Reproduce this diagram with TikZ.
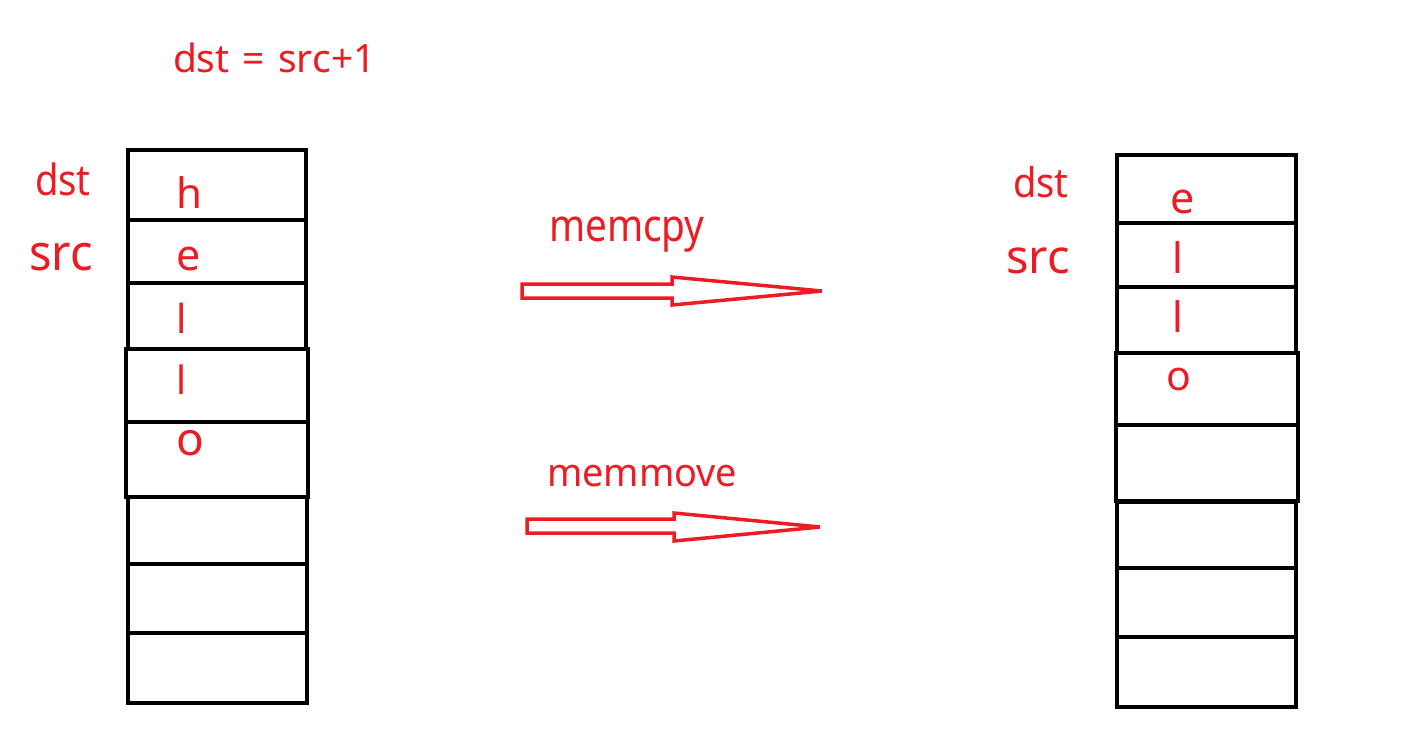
\documentclass[tikz,border=0pt]{standalone}
\usepackage{fontspec}
\newfontfamily\yh{Noto Sans}
\definecolor{pred}{RGB}{237,28,36}
\tikzset{
  cell/.style={draw=black, line width=4pt, inner sep=0pt, outer sep=0pt, rectangle},
  lab/.style={text=pred, inner sep=0pt, outer sep=0pt, anchor=base west},
  fatarrow/.style={draw=pred, line width=3.5pt, line join=miter},
}
\newcommand{\fs}[1]{\yh\fontsize{#1}{#1}\selectfont}
\newcommand{\sx}[2]{\scalebox{#1}[1]{#2}}
\begin{document}
\begin{tikzpicture}[x=1pt,y=-1pt]
\useasboundingbox[fill=white] (0,0) rectangle (1422,748);
% left column
\node[cell, minimum width=178pt, minimum height=70pt] (L1) at (217,185) {};
\node[cell, minimum width=178pt, minimum height=63pt] (L2) at (217,251.5) {};
\node[cell, minimum width=178pt, minimum height=66pt] (L3) at (217,316) {};
\node[cell, minimum width=182pt, minimum height=73pt] (L4) at (217,385.5) {};
\node[cell, minimum width=182pt, minimum height=75pt] (L5) at (217,459) {};
\node[cell, minimum width=179pt, minimum height=67pt] (L6) at (217.5,530.5) {};
\node[cell, minimum width=179pt, minimum height=69pt] (L7) at (217.5,598.5) {};
\node[cell, minimum width=179pt, minimum height=70pt] (L8) at (217.5,668) {};
% right column
\node[cell, minimum width=179pt, minimum height=68pt] (R1) at (1206.5,189) {};
\node[cell, minimum width=179pt, minimum height=64pt] (R2) at (1206.5,255) {};
\node[cell, minimum width=179pt, minimum height=66pt] (R3) at (1206.5,320) {};
\node[cell, minimum width=182pt, minimum height=72pt] (R4) at (1207,389) {};
\node[cell, minimum width=182pt, minimum height=76pt] (R5) at (1207,463) {};
\node[cell, minimum width=179pt, minimum height=66pt] (R6) at (1206.5,535) {};
\node[cell, minimum width=179pt, minimum height=69pt] (R7) at (1206.5,602.5) {};
\node[cell, minimum width=179pt, minimum height=70pt] (R8) at (1206.5,672) {};
% labels
\node[lab, font=\fs{39}] (title) at (173,72) {dst\hspace{3pt} =\hspace{3pt} src+1};
\node[lab, font=\fs{43}] (ldst) at (35,195) {\sx{0.89}{dst}};
\node[lab, font=\fs{50}] (lsrc) at (29,270) {\sx{0.94}{src}};
\node[lab, font=\fs{41}] (rdst) at (1013,197) {\sx{0.93}{dst}};
\node[lab, font=\fs{47}] (rsrc) at (1006,273) {src};
\node[lab, font=\fs{45}] (cpy) at (549,241) {\sx{0.86}{memcpy}};
\node[lab, font=\fs{39}] (mov) at (547,486) {\sx{0.97}{memmove}};
% left letters
\node[lab, font=\fs{42}] (lh) at (176,208) {h};
\node[lab, font=\fs{43}] (le) at (176,270) {e};
\node[lab, font=\fs{40}] (ll1) at (176,333) {l};
\node[lab, font=\fs{39}] (ll2) at (176,394) {l};
\node[lab, font=\fs{46}] (lo) at (176,455) {o};
% right letters
\node[lab, font=\fs{43}] (re) at (1170,213) {e};
\node[lab, font=\fs{42}] (rl1) at (1172,273) {l};
\node[lab, font=\fs{42}] (rl2) at (1172,332) {l};
\node[lab, font=\fs{41}] (ro) at (1166,390) {o};
% arrows
\coordinate (a1s) at (522,291);
\coordinate (a1t) at (822,291);
\draw[fatarrow] (a1s) ++(0,-7) -- (672,284) -- (672,277) -- (a1t) -- (672,305) -- (672,298) -- (522,298) -- cycle;
\coordinate (a2s) at (527,526);
\coordinate (a2t) at (820,527);
\draw[fatarrow] (a2s) ++(0,-7) -- (674,519) -- (674,513) -- (a2t) -- (674,541) -- (674,533) -- (527,533) -- cycle;
\end{tikzpicture}
\end{document}
